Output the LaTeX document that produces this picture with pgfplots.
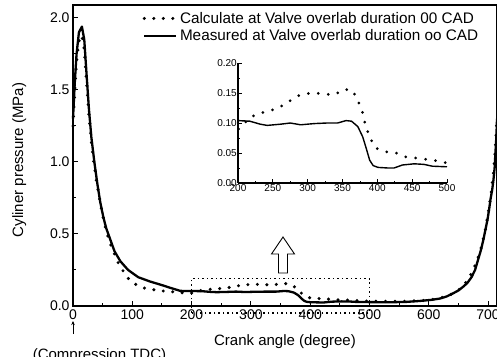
\documentclass[border=0pt]{standalone}
\usepackage{pgfplots}
\pgfplotsset{compat=1.18}
\usepackage{pgfplotstable}
\usetikzlibrary{arrows.meta}
\usepackage{fontspec}
\setmainfont{Liberation Sans}

\pgfplotstableread{
x y
0 1.30
3 1.55
6 1.75
10 1.90
15 1.94
19 1.85
23 1.60
27 1.36
31 1.17
36 1.00
41 0.85
46 0.72
51 0.62
56 0.54
63 0.46
70 0.38
80 0.31
93 0.25
110 0.20
130 0.17
150 0.145
165 0.125
181 0.105
200 0.104
217 0.103
232 0.098
242 0.096
261 0.098
275 0.100
290 0.097
309 0.099
328 0.100
343 0.100
355 0.104
363 0.103
372 0.094
379 0.077
384 0.058
389 0.038
394 0.029
401 0.026
415 0.025
424 0.025
436 0.030
453 0.032
467 0.031
479 0.028
500 0.027
530 0.026
560 0.028
585 0.035
605 0.043
619 0.052
630 0.066
641 0.088
650 0.108
658 0.134
665 0.16
672 0.20
678 0.25
683 0.32
688 0.39
692 0.46
696 0.54
699 0.60
702 0.68
704 0.74
707 0.81
709 0.875
711 0.96
712 1.04
714 1.18
715 1.30
}\measured

\pgfplotstableread{
x y
0 1.25
3 1.50
6 1.70
10 1.84
15 1.88
19 1.78
23 1.55
27 1.32
31 1.14
35 1.00
40 0.86
45 0.74
50 0.63
55 0.54
60 0.47
65 0.41
70 0.36
75 0.31
80 0.27
86 0.235
91 0.20
100 0.165
110 0.14
120 0.125
133 0.115
150 0.105
165 0.10
184 0.092
201 0.09
218 0.11
231 0.116
245 0.12
259 0.126
271 0.134
283 0.144
296 0.149
311 0.150
325 0.148
339 0.147
351 0.156
363 0.155
371 0.142
374 0.131
379 0.117
382 0.101
386 0.086
391 0.072
398 0.058
411 0.052
425 0.051
438 0.044
453 0.042
466 0.040
481 0.038
495 0.034
500 0.034
530 0.032
560 0.033
590 0.038
615 0.050
635 0.075
650 0.110
660 0.150
670 0.210
680 0.300
688 0.400
695 0.520
700 0.640
705 0.780
709 0.920
712 1.080
715 1.300
}\calculated

\tikzset{
  dotline/.style={line width=3.4pt, line cap=round, dash pattern=on 0pt off 9.5pt},
  solidline/.style={line width=2.3pt, line join=round},
}

\begin{document}
\begin{tikzpicture}
\useasboundingbox (-73pt,-50pt) rectangle (424pt,306pt);
\begin{axis}[
  at={(0pt,0pt)}, anchor=south west, scale only axis,
  width=424pt, height=301pt,
  xmin=0, xmax=715, ymin=0, ymax=2.09,
  clip=false,
  axis line style={line width=1.3pt},
  every tick/.style={black, line width=1pt},
  tick align=inside, xtick pos=bottom, ytick pos=left,
  major tick length=5pt, minor tick length=3pt,
  xtick={0,100,200,300,400,500,600,700},
  minor xtick={50,150,250,350,450,550,650},
  ytick={0,0.5,1,1.5,2},
  minor ytick={0.25,0.75,1.25,1.75},
  yticklabel style={/pgf/number format/.cd,fixed,fixed zerofill,precision=1},
  /pgf/number format/assume math mode=true,
  ticklabel style={font=\fontsize{14}{16}\selectfont},
  label style={font=\fontsize{15}{18}\selectfont},
  xlabel={Crank angle (degree)},
  ylabel={Cyliner pressure (MPa)},
  xlabel style={at={(axis description cs:0.5,-0.12)}, anchor=center},
  ylabel style={at={(axis description cs:-0.127,0.485)}, anchor=center},
  legend style={draw=none, fill=none, font=\fontsize{15.3}{18}\selectfont,
    at={(rel axis cs:0.968,0.99)}, anchor=north east, row sep=1pt},
  legend cell align=left,
  legend image code/.code={\draw[#1] (0pt,0pt) -- (32pt,0pt);},
]
\addplot[black, dotline] table[x=x,y=y] {\calculated};
\addlegendentry{Calculate at Valve overlab duration 00 CAD}
\addplot[black, solidline] table[x=x,y=y] {\measured};
\addlegendentry{Measured at Valve overlab duration oo CAD}
\draw[black, line width=1.4pt, dash pattern=on 1.5pt off 3pt]
  (axis cs:200,-0.048) rectangle (axis cs:500,0.19);
\end{axis}

% hollow arrow
\draw[black, line width=0.9pt, fill=white]
  (205.5pt,33pt) -- (214.5pt,33pt) -- (214.5pt,52pt) -- (221.5pt,52pt)
  -- (210pt,69pt) -- (198.5pt,52pt) -- (205.5pt,52pt) -- cycle;

% compression TDC
\draw[black, line width=0.8pt, -{Stealth[length=4pt,width=3.5pt]}] (0pt,-28pt) -- (0pt,-15pt);
\node[anchor=base, inner sep=0pt, font=\fontsize{15}{18}\selectfont] at (26.5pt,-53pt) {(Compression TDC)};

\begin{axis}[
  at={(165pt,123pt)}, anchor=south west, scale only axis,
  width=209pt, height=120pt,
  xmin=200, xmax=500, ymin=0, ymax=0.2,
  axis x line=bottom, axis y line=left,
  axis line style={-, line width=1.1pt},
  every tick/.style={black, line width=0.7pt},
  tick align=inside,
  major tick length=3.5pt, minor tick length=2pt,
  xtick={200,250,300,350,400,450,500},
  minor x tick num=1,
  ytick={0,0.05,0.1,0.15,0.2},
  minor y tick num=1,
  yticklabel style={/pgf/number format/.cd,fixed,fixed zerofill,precision=2},
  /pgf/number format/assume math mode=true,
  ticklabel style={font=\fontsize{10}{11}\selectfont, inner sep=1pt},
  restrict x to domain=195:505,
]
\addplot[black, line width=3pt, line cap=round, dash pattern=on 0pt off 10pt] table[x=x,y=y] {\calculated};
\addplot[black, line width=1.4pt, line join=round] table[x=x,y=y] {\measured};
\end{axis}
\end{tikzpicture}
\end{document}
